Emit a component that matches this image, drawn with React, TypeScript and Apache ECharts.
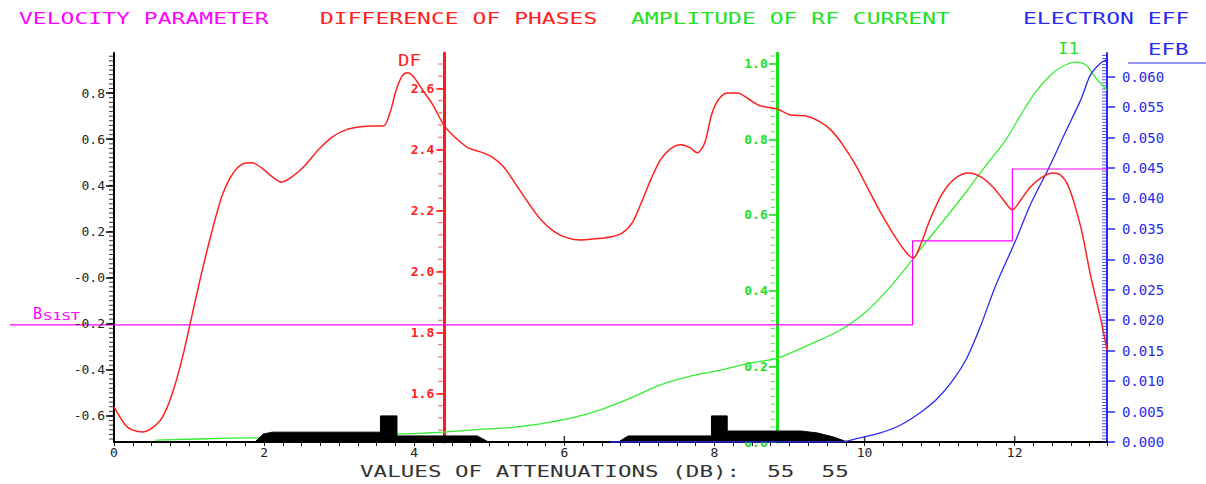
import React, { useEffect, useRef } from 'react';
import * as echarts from 'echarts';

const FONT = '"DejaVu Sans Mono", monospace';

// axis ranges
const X_MIN = 0;
const X_MAX = 13.23;
const LEFT_MIN = -0.713;
const LEFT_MAX = 0.974;
const DF_MIN = 1.441;
const DF_MAX = 2.716;
const I1_MIN = 0;
const I1_MAX = 1.028;
const EFB_MIN = 0;
const EFB_MAX = 0.0639;
const DF_AXIS_AT = 4.4;
const I1_AXIS_AT = 8.83;

// tick labels
const xLabels = [0, 2, 4, 6, 8, 10, 12];
const leftTicks = [-0.6, -0.4, -0.2, 0, 0.2, 0.4, 0.6, 0.8];
const dfTicks = [1.6, 1.8, 2.0, 2.2, 2.4, 2.6];
const i1Ticks = [0, 0.2, 0.4, 0.6, 0.8, 1.0];
const efbTicks = [0, 0.005, 0.01, 0.015, 0.02, 0.025, 0.03, 0.035, 0.04, 0.045, 0.05, 0.055, 0.06];

// series: [attenuation, value]
const velocity: [number, number][] = [
  [0, -0.205], [10.64, -0.205], [10.64, 0.159], [11.97, 0.159], [11.97, 0.471], [13.23, 0.471],
];

const phaseDiff: [number, number][] = [
  [0, 1.556], [0.15, 1.497], [0.25, 1.48], [0.39, 1.474], [0.51, 1.487], [0.64, 1.52],
  [0.77, 1.595], [0.91, 1.716], [1.04, 1.857], [1.17, 1.998], [1.31, 2.136], [1.44, 2.248],
  [1.57, 2.316], [1.71, 2.352], [1.84, 2.356], [1.97, 2.339], [2.11, 2.31], [2.23, 2.293],
  [2.37, 2.31], [2.55, 2.349], [2.72, 2.398], [2.91, 2.441], [3.09, 2.464], [3.28, 2.474],
  [3.44, 2.477], [3.59, 2.477], [3.68, 2.523], [3.76, 2.595], [3.84, 2.641], [3.91, 2.651],
  [3.99, 2.638], [4.11, 2.595], [4.24, 2.549], [4.4, 2.478], [4.55, 2.438], [4.72, 2.405],
  [4.88, 2.392], [5.04, 2.375], [5.19, 2.343], [5.35, 2.287], [5.52, 2.225], [5.69, 2.169],
  [5.87, 2.13], [6.04, 2.11], [6.21, 2.103], [6.41, 2.107], [6.61, 2.113], [6.77, 2.126],
  [6.91, 2.162], [7.03, 2.228], [7.15, 2.3], [7.28, 2.366], [7.41, 2.401], [7.55, 2.415],
  [7.68, 2.405], [7.77, 2.389], [7.87, 2.421], [7.96, 2.513], [8.05, 2.562], [8.17, 2.585],
  [8.31, 2.585], [8.45, 2.566], [8.61, 2.543], [8.83, 2.533], [9.01, 2.513], [9.21, 2.51],
  [9.39, 2.493], [9.55, 2.464], [9.71, 2.415], [9.88, 2.349], [10.04, 2.274], [10.21, 2.195],
  [10.39, 2.12], [10.55, 2.064], [10.65, 2.044], [10.75, 2.09], [10.88, 2.175], [11.04, 2.257],
  [11.21, 2.306], [11.39, 2.323], [11.55, 2.31], [11.71, 2.277], [11.85, 2.234], [11.97, 2.202],
  [12.08, 2.234], [12.21, 2.277], [12.37, 2.31], [12.51, 2.323], [12.61, 2.316], [12.72, 2.277],
  [12.88, 2.146], [13.01, 1.988], [13.15, 1.84], [13.23, 1.743],
];

const rfAmplitude: [number, number][] = [
  [0.55, 0.005], [1.55, 0.01], [2.17, 0.012], [2.95, 0.017], [3.57, 0.02], [4.08, 0.023],
  [4.39, 0.026], [4.92, 0.034], [5.28, 0.038], [5.68, 0.048], [6.08, 0.063], [6.48, 0.085],
  [6.88, 0.116], [7.28, 0.151], [7.68, 0.174], [8.08, 0.19], [8.48, 0.209], [8.83, 0.221],
  [9.25, 0.256], [9.68, 0.296], [10.01, 0.343], [10.28, 0.396], [10.55, 0.46], [10.81, 0.526],
  [11.08, 0.592], [11.35, 0.66], [11.61, 0.729], [11.88, 0.798], [12.08, 0.864], [12.28, 0.925],
  [12.48, 0.97], [12.64, 0.993], [12.81, 1.004], [12.95, 0.996], [13.08, 0.962], [13.23, 0.93],
];

const efficiency: [number, number][] = [
  [6.61, 0], [9.68, 0], [9.88, 0.0005], [10.21, 0.0015], [10.48, 0.0028], [10.75, 0.0049],
  [10.95, 0.0069], [11.15, 0.0097], [11.35, 0.0135], [11.55, 0.0192], [11.75, 0.0258],
  [12.01, 0.033], [12.21, 0.039], [12.45, 0.0449], [12.68, 0.051], [12.88, 0.0562],
  [13.01, 0.0603], [13.15, 0.0623], [13.23, 0.0628],
];

const blockA: [number, number][] = [
  [1.88, 0], [1.99, 0.021], [2.11, 0.026], [3.55, 0.026], [3.55, 0.069], [3.77, 0.069],
  [3.77, 0.016], [4.84, 0.016], [4.99, 0],
];
const blockB: [number, number][] = [
  [6.72, 0], [6.85, 0.016], [7.96, 0.016], [7.96, 0.069], [8.17, 0.069], [8.17, 0.029],
  [9.15, 0.029], [9.37, 0.024], [9.59, 0.013], [9.77, 0],
];

const titles = [
  { text: 'VELOCITY PARAMETER', x: 19, color: '#ff00ff' },
  { text: 'DIFFERENCE OF PHASES', x: 320, color: '#ff2020' },
  { text: 'AMPLITUDE OF RF CURRENT', x: 631, color: '#22e022' },
  { text: 'ELECTRON EFF', x: 1023, color: '#2a2af0' },
];
const xTitle = 'VALUES OF ATTENUATIONS (DB):  55  55';

function steps(from: number, to: number, step: number): number[] {
  const n = Math.round((to - from) / step);
  const out: number[] = [];
  for (let i = 0; i <= n; i++) out.push(+(from + i * step).toFixed(6));
  return out;
}

const GRID = { left: 114, right: 99, top: 53, bottom: 42 };
const PLOT_W = 1206 - GRID.left - GRID.right;
const pxPerX = PLOT_W / (X_MAX - X_MIN);

function yAxisDef(opts: {
  min: number; max: number; position: 'left' | 'right'; offset: number; color: string;
  lineWidth: number; major: number[]; fmt: (v: number) => string;
  labelColor: string; fontSize: number; bold: boolean; margin: number;
}) {
  return {
    type: 'value', min: opts.min, max: opts.max, position: opts.position, offset: opts.offset,
    splitLine: { show: false },
    axisLine: { show: true, onZero: false, lineStyle: { color: opts.color, width: opts.lineWidth } },
    axisTick: { show: true, customValues: opts.major, length: 8, inside: false, lineStyle: { color: opts.color, width: 1.5 } },
    axisLabel: {
      show: true, customValues: opts.major, formatter: opts.fmt, color: opts.labelColor,
      fontFamily: FONT, fontSize: opts.fontSize, fontWeight: opts.bold ? 'bold' : 'normal', margin: opts.margin,
    },
  };
}

// minor tick marks drawn as tiny rect symbols placed through the axes' own scales
function tickMarks(name: string, xAt: number, yAxisIndex: number, values: number[], color: string, dx: number) {
  return {
    name, type: 'scatter', xAxisIndex: 0, yAxisIndex, silent: true, z: 1, clip: false,
    data: values.map((v) => [xAt, v]),
    symbol: 'rect', symbolSize: [4, 1], symbolOffset: [dx, 0],
    itemStyle: { color },
  };
}

export default function App() {
  const ref = useRef<HTMLDivElement>(null);

  useEffect(() => {
    document.body.style.margin = '0';
    const chart = echarts.init(ref.current!, null, { renderer: 'svg' });

    const yAxes = [
      yAxisDef({
        min: LEFT_MIN, max: LEFT_MAX, position: 'left', offset: 0, color: '#000', lineWidth: 2, major: leftTicks,
        fmt: (v) => (Math.abs(v) < 1e-9 ? '-0.0' : v.toFixed(1)),
        labelColor: '#222', fontSize: 13, bold: false, margin: 9,
      }),
      yAxisDef({
        min: DF_MIN, max: DF_MAX, position: 'left', offset: -(DF_AXIS_AT * pxPerX), color: '#ff1a1a', lineWidth: 3,
        major: dfTicks, fmt: (v) => v.toFixed(1), labelColor: '#ff2020', fontSize: 13, bold: true, margin: 10,
      }),
      yAxisDef({
        min: I1_MIN, max: I1_MAX, position: 'left', offset: -(I1_AXIS_AT * pxPerX), color: '#19e019', lineWidth: 3,
        major: i1Ticks, fmt: (v) => v.toFixed(1), labelColor: '#22e022', fontSize: 13, bold: true, margin: 9,
      }),
      yAxisDef({
        min: EFB_MIN, max: EFB_MAX, position: 'right', offset: 0, color: '#2a2af0', lineWidth: 2,
        major: efbTicks, fmt: (v) => v.toFixed(3), labelColor: '#2a2af0', fontSize: 14, bold: false, margin: 15,
      }),
    ];

    const option: any = {
      animation: false,
      backgroundColor: '#ffffff',
      grid: { ...GRID, containLabel: false },
      xAxis: [
        {
          type: 'value', min: X_MIN, max: X_MAX, interval: 0.25, position: 'bottom',
          axisLine: { show: true, onZero: false, lineStyle: { color: '#000', width: 2 } },
          axisTick: { show: true, length: 4, lineStyle: { color: '#000' } },
          axisLabel: {
            color: '#222', fontFamily: FONT, fontSize: 13, margin: 4,
            formatter: (v: number) => (xLabels.indexOf(v) >= 0 ? String(v) : ''),
          },
          splitLine: { show: false },
        },
      ],
      yAxis: yAxes,
      series: [
        tickMarks('left minor ticks', X_MIN, 0, steps(-0.7, 0.96, 0.02), '#000', -3),
        tickMarks('DF minor ticks', DF_AXIS_AT, 1, steps(1.48, 2.68, 0.04), '#ff1a1a', -4),
        tickMarks('I1 minor ticks', I1_AXIS_AT, 2, steps(0, 1.02, 0.02), '#19e019', -4),
        tickMarks('EFB minor ticks', X_MAX, 3, steps(0, 0.0635, 0.0005), '#2a2af0', -3),
        {
          name: 'x major ticks', type: 'scatter', xAxisIndex: 0, yAxisIndex: 2, silent: true, z: 1, clip: false,
          data: xLabels.map((v) => [v, I1_MIN]), symbol: 'rect', symbolSize: [1.5, 6], symbolOffset: [0, -3],
          itemStyle: { color: '#000' },
        },
        {
          name: 'AMPLITUDE OF RF CURRENT', type: 'line', xAxisIndex: 0, yAxisIndex: 2, data: rfAmplitude,
          smooth: 0.3, symbol: 'none', lineStyle: { color: '#33ee33', width: 1.3 }, z: 3, silent: true,
        },
        {
          name: 'blocks A', type: 'line', xAxisIndex: 0, yAxisIndex: 2, data: blockA, symbol: 'none',
          lineStyle: { color: '#000', width: 1 }, areaStyle: { color: '#000', opacity: 1 }, z: 4, silent: true,
        },
        {
          name: 'blocks B', type: 'line', xAxisIndex: 0, yAxisIndex: 2, data: blockB, symbol: 'none',
          lineStyle: { color: '#000', width: 1 }, areaStyle: { color: '#000', opacity: 1 }, z: 4, silent: true,
        },
        {
          name: 'ELECTRON EFF', type: 'line', xAxisIndex: 0, yAxisIndex: 3, data: efficiency,
          smooth: 0.3, symbol: 'none', lineStyle: { color: '#2a2af0', width: 1.3 }, z: 5, silent: true,
        },
        {
          name: 'VELOCITY PARAMETER', type: 'line', xAxisIndex: 0, yAxisIndex: 0, data: velocity,
          symbol: 'none', lineStyle: { color: '#ff00ff', width: 1.2 }, z: 5, silent: true,
        },
        {
          name: 'DIFFERENCE OF PHASES', type: 'line', xAxisIndex: 0, yAxisIndex: 1, data: phaseDiff,
          smooth: 0.3, symbol: 'none', lineStyle: { color: '#ff2020', width: 1.5 }, z: 6, silent: true,
        },
      ],
    };
    chart.setOption(option);

    const vy = chart.convertToPixel({ yAxisIndex: 0 }, velocity[0][1]) as number;
    const x0 = chart.convertToPixel({ xAxisIndex: 0 }, X_MIN) as number;

    const graphics: any[] = titles.map((t) => ({
      type: 'text', x: t.x, y: 19, scaleX: 1.44,
      style: { text: t.text, fill: t.color, font: `16px ${FONT}`, align: 'left', verticalAlign: 'middle' },
    }));
    graphics.push(
      {
        type: 'text', x: 360, y: 472, scaleX: 1.41,
        style: { text: xTitle, fill: '#333', font: `16px ${FONT}`, align: 'left', verticalAlign: 'middle' },
      },
      {
        type: 'text', x: 398, y: 61, scaleX: 1.2,
        style: { text: 'DF', fill: '#ff2020', font: `16px ${FONT}`, align: 'left', verticalAlign: 'middle' },
      },
      {
        type: 'text', x: 1058, y: 48, scaleX: 1.1,
        style: { text: 'I1', fill: '#22e022', font: `16px ${FONT}`, align: 'left', verticalAlign: 'middle' },
      },
      {
        type: 'text', x: 1148, y: 50, scaleX: 1.4,
        style: { text: 'EFB', fill: '#2a2af0', font: `16px ${FONT}`, align: 'left', verticalAlign: 'middle' },
      },
      {
        type: 'line', shape: { x1: 1128, y1: 63, x2: 1206, y2: 63 },
        style: { stroke: '#2a2af0', lineWidth: 1 },
      },
      {
        type: 'text', x: 33, y: 314, scaleX: 1.0,
        style: { text: 'B', fill: '#ff00ff', font: `15px ${FONT}`, align: 'left', verticalAlign: 'middle' },
      },
      {
        type: 'text', x: 43, y: 316, scaleX: 1.4,
        style: { text: 'S1ST', fill: '#ff00ff', font: `11px ${FONT}`, align: 'left', verticalAlign: 'middle' },
      },
      {
        type: 'line', shape: { x1: 10, y1: vy, x2: x0, y2: vy },
        style: { stroke: '#ff00ff', lineWidth: 1.2 },
      },
    );
    chart.setOption({ graphic: graphics });

    return () => chart.dispose();
  }, []);

  return <div ref={ref} style={{ width: 1206, height: 484 }} />;
}
